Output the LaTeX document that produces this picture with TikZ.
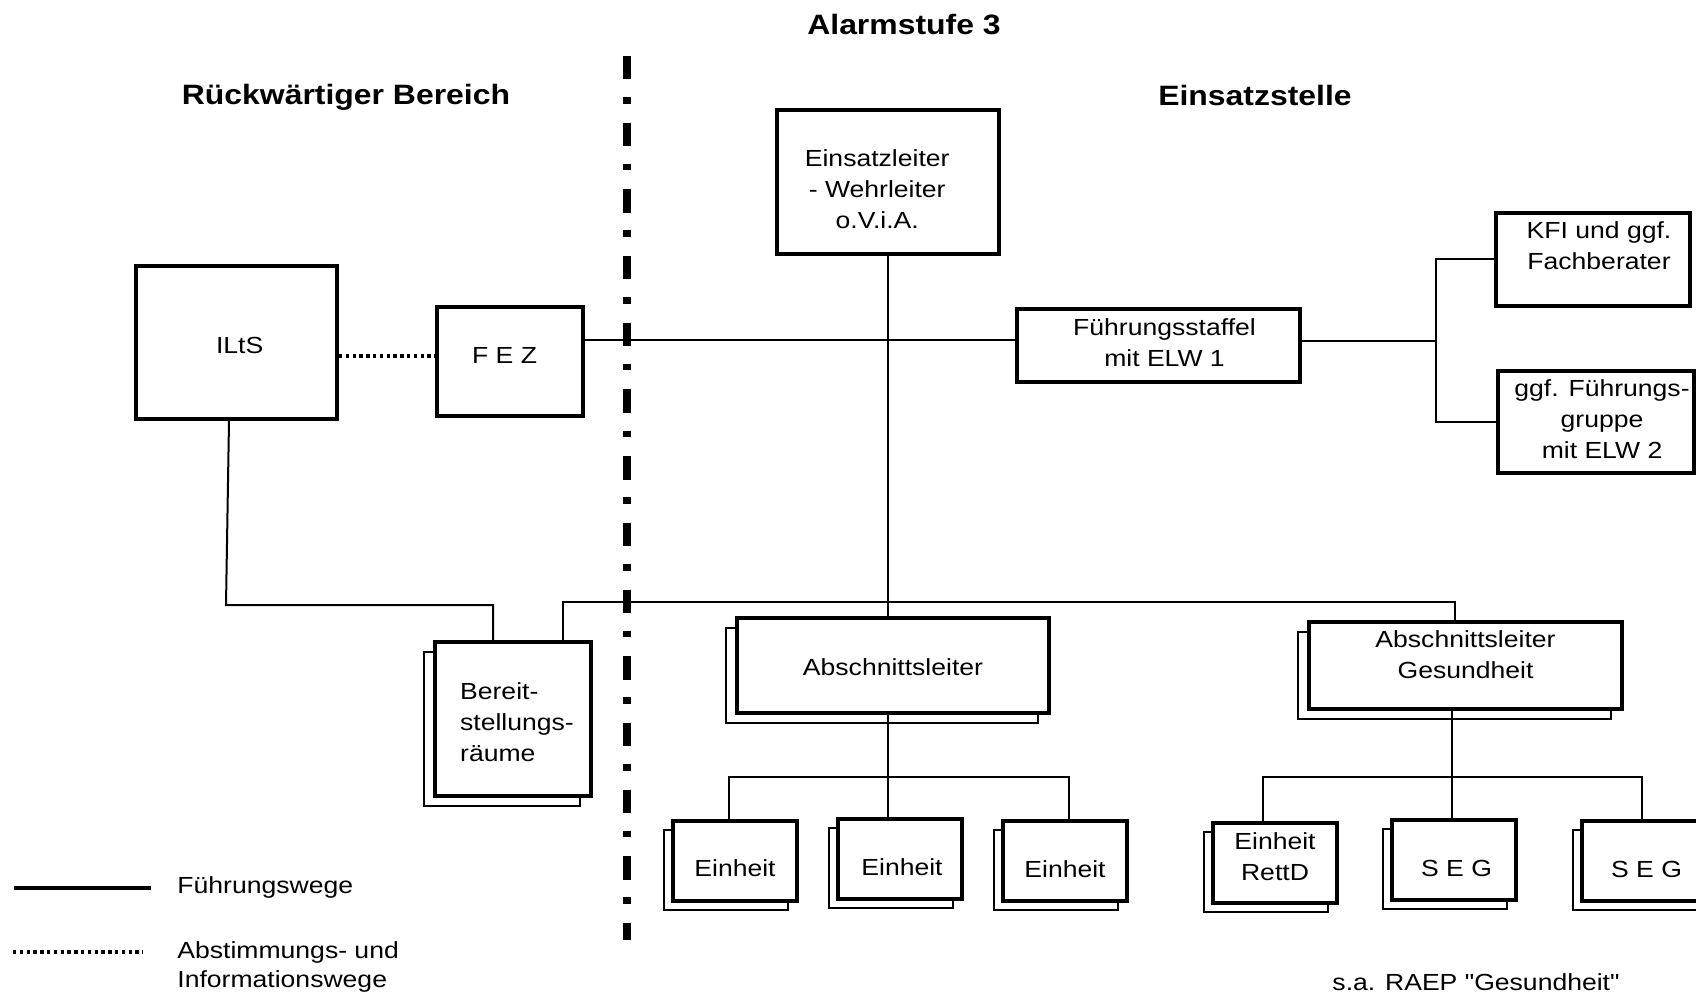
\documentclass[tikz,border=0pt]{standalone}
\usepackage{fontspec}
\setmainfont{Liberation Sans}[FakeStretch=1.14,Ligatures=TeXOff]
\usepackage{tikz}
\usetikzlibrary{shadows}

\begin{document}
\begin{tikzpicture}
    [
    x=0.5pt, y=-0.5pt,
    box/.style={rectangle,draw,fill=white,line width=2pt,inner sep=0pt},
    stack/.style={box,copy shadow={shadow xshift=-5.5pt,shadow yshift=-5pt,line width=1pt}},
    unit/.style={box,copy shadow={shadow xshift=-4.5pt,shadow yshift=-4.5pt,line width=1pt},minimum width=62pt,minimum height=40pt},
    txt/.style={inner sep=0pt,align=center,font=\fontsize{11.65}{15.5}\selectfont},
    wire/.style={line width=1pt},
    info/.style={line width=2pt,dash pattern=on 1.7pt off 1.7pt},
    title/.style={font=\fontsize{14}{17}\selectfont\bfseries},
    note/.style={inner sep=0pt,align=left,font=\fontsize{11.65}{14.5}\selectfont},
    ]
    \useasboundingbox (0,0) rectangle (1696,994);

    % headings
    \node (alarm) at (904,25) [title] {Alarmstufe 3};
    \node (back) at (346,97) [title] {Rückwärtiger Bereich};
    \node (site) at (1255,95) [title] {Einsatzstelle};

    % divider
    \coordinate (divtop) at (627,56);
    \coordinate (divbot) at (627,940);
    \draw [line width=3.65pt,dash pattern=on 11.65pt off 8.85pt on 3.35pt off 9.5pt] (divtop) -- (divbot);

    % rear area
    \node (ilts) at (236.5,342.5) [box,minimum width=100.5pt,minimum height=76.5pt,
        label={[txt,xshift=1.6pt,yshift=-1.6pt]center:ILtS}] {};
    \node (fez) at (510,361.5) [box,minimum width=73pt,minimum height=54.5pt,
        label={[txt,xshift=-2.7pt,yshift=3.2pt]center:F E Z}] {};
    \node (bsr) at (513,719) [stack,minimum width=78pt,minimum height=77pt,
        label={[txt,align=left,xshift=2pt,yshift=-1.6pt]center:Bereit-\\stellungs-\\räume}] {};

    % site
    \node (elt) at (888,182) [box,minimum width=111pt,minimum height=72pt,
        label={[txt,xshift=-5.4pt,yshift=-3.8pt]center:Einsatzleiter\\- Wehrleiter\\o.V.i.A.}] {};
    \node (fst) at (1158.5,345.5) [box,minimum width=141.5pt,minimum height=36.5pt,
        label={[txt,xshift=3pt,yshift=1.6pt]center:Führungsstaffel\\mit ELW 1}] {};
    \node (kfi) at (1593,259.5) [box,minimum width=97pt,minimum height=46.5pt,
        label={[txt,xshift=3pt,yshift=7pt]center:KFI und ggf.\\Fachberater}] {};
    \node (fgr) at (1596,422) [box,minimum width=98pt,minimum height=51pt,
        label={[txt,xshift=3pt,yshift=1.6pt]center:ggf. Führungs-\\gruppe\\mit ELW 2}] {};
    \node (asl) at (893,665.5) [stack,minimum width=156pt,minimum height=47.5pt,
        label={[txt,yshift=-1pt]center:Abschnittsleiter}] {};
    \node (asg) at (1465.5,665.5) [stack,minimum width=156.5pt,minimum height=43.5pt,
        label={[txt,yshift=5.4pt]center:Abschnittsleiter\\Gesundheit}] {};
    \node (e1) at (735,861) [unit,label={[txt,yshift=-3.8pt]center:Einheit}] {};
    \node (e2) at (900,858.5) [unit,label={[txt,xshift=1pt,yshift=-4.3pt]center:Einheit}] {};
    \node (e3) at (1065,861) [unit,label={[txt,yshift=-4.3pt]center:Einheit}] {};
    \node (er) at (1275,862.5) [unit,label={[txt,yshift=3pt]center:Einheit\\RettD}] {};
    \node (seg1) at (1453.5,860) [unit,label={[txt,xshift=1.5pt,yshift=-4.3pt]center:S E G}] {};
    \node (seg2) at (1643.5,861) [unit,label={[txt,xshift=1.5pt,yshift=-4.3pt]center:S E G}] {};

    % connections
    \coordinate (fezin) at ([yshift=2.7pt]fez.west);
    \coordinate (fstin) at ([yshift=2.5pt]fst.west);
    \coordinate (fstout) at ([yshift=2pt]fst.east);
    \draw [info] (ilts.east |- fezin) -- (fezin);
    \draw [wire] (fez.east |- fstin) -- (fstin);
    \draw [wire] (elt.south) -- (elt.south |- asl.north);

    \coordinate (busl) at (563,602);
    \coordinate (busr) at (1455,602);
    \draw [wire] (bsr.north -| busl) -- (busl) -- (busr) -- (busr |- asg.north);

    \coordinate (iltsfoot) at (226,605);
    \coordinate (bsrhook) at (493,605);
    \draw [wire] ([xshift=-3.75pt]ilts.south) -- (iltsfoot) -- (bsrhook) -- (bsrhook |- bsr.north);

    \coordinate (fork) at (1436,342);
    \draw [wire] (fstout) -- (fstout -| fork);
    \draw [wire] (kfi.west) -| (fork |- fgr.west) -- (fgr.west);

    \coordinate (ajoin) at (888,777);
    \coordinate (aleft) at (729,777);
    \coordinate (aright) at (1069,777);
    \draw [wire] (asl.south -| ajoin) -- (ajoin) -- (ajoin |- e2.north);
    \draw [wire] (aleft |- e1.north) -- (aleft) -- (aright) -- (aright |- e3.north);

    \coordinate (gjoin) at (1452,777);
    \coordinate (gleft) at (1263,777);
    \coordinate (gright) at (1642,777);
    \draw [wire] (asg.south -| gjoin) -- (gjoin) -- (gjoin |- seg1.north);
    \draw [wire] (gleft |- er.north) -- (gleft) -- (gright) -- (gright |- seg2.north);

    % legend
    \coordinate (lead1a) at (14,888);
    \coordinate (lead1b) at (151,888);
    \coordinate (lead2a) at (13,952);
    \coordinate (lead2b) at (143,952);
    \draw [line width=2pt] (lead1a) -- (lead1b);
    \draw [info] (lead2a) -- (lead2b);
    \node (leg1) at (177,887) [note,anchor=west] {Führungswege};
    \node (leg2) at (177,967) [note,anchor=west] {Abstimmungs- und\\Informationswege};
    \node (ref) at (1476,982) [note] {s.a. RAEP "Gesundheit"};
\end{tikzpicture}
\end{document}
